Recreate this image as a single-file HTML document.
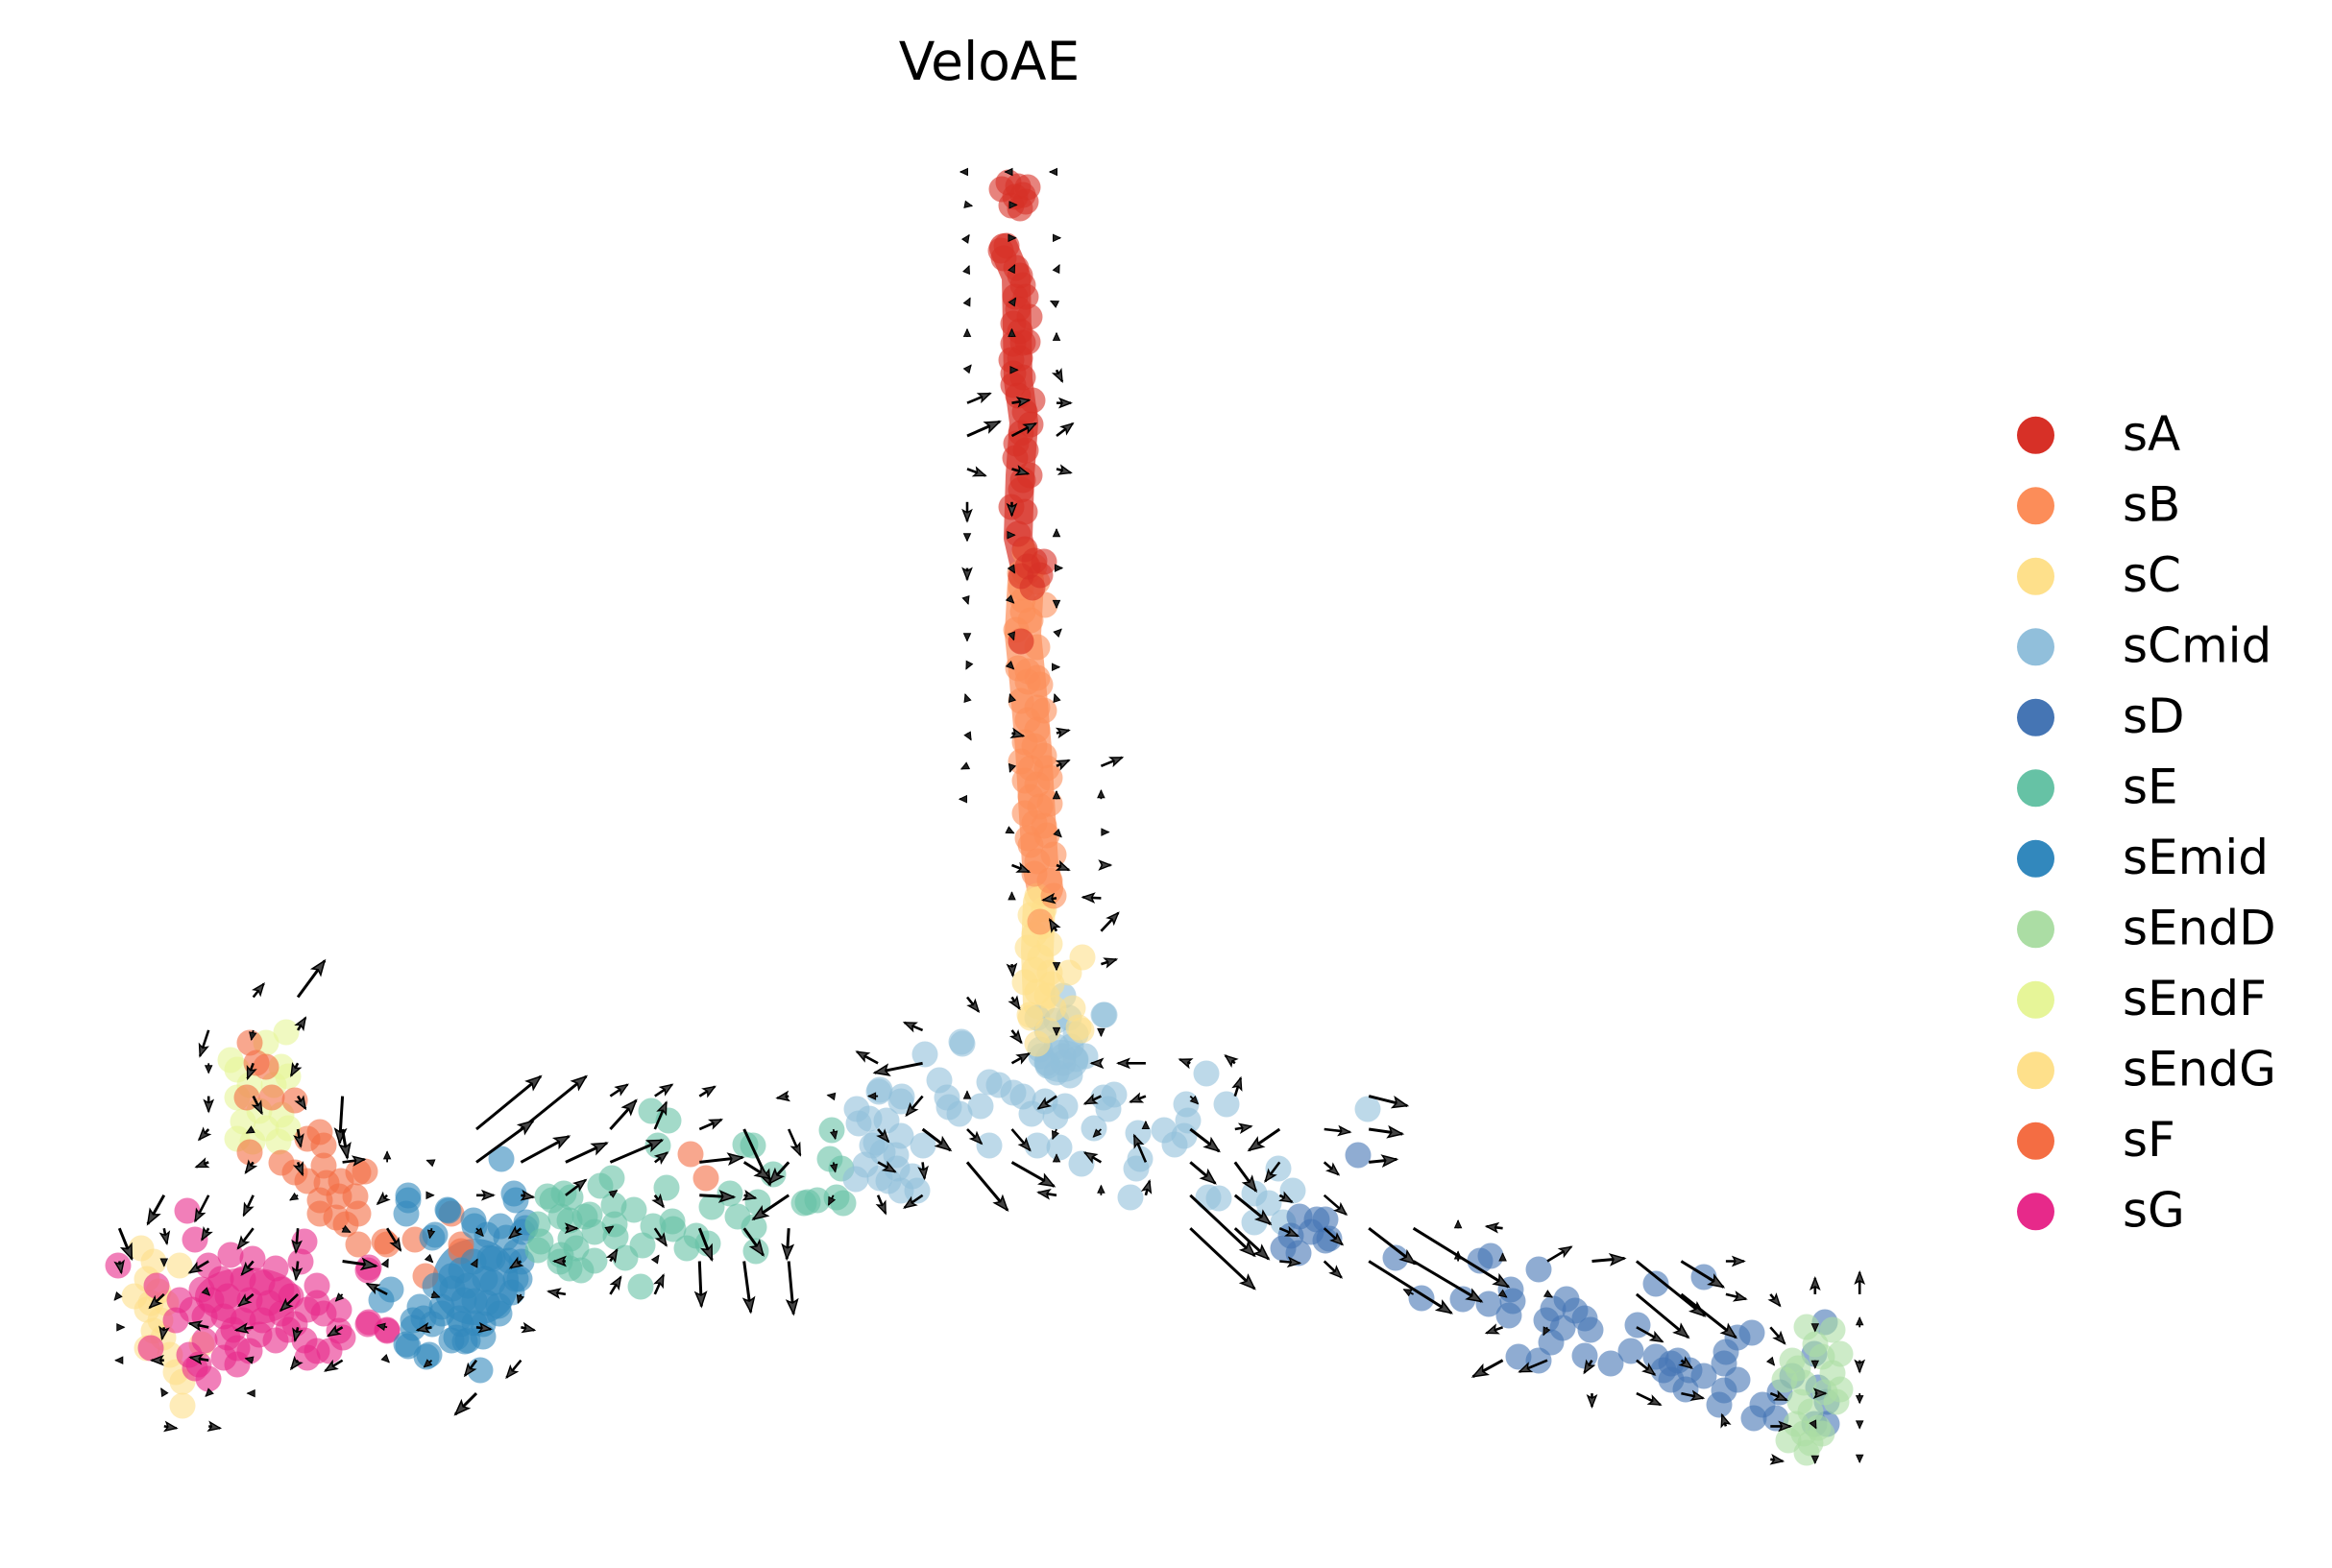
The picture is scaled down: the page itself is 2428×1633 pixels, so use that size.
<!DOCTYPE html>
<html><head><meta charset="utf-8"><style>
html,body{margin:0;padding:0;background:#fff;}
svg{display:block;}
</style></head><body>
<svg width="2428" height="1633" viewBox="0 0 2428 1633" xmlns="http://www.w3.org/2000/svg">
<defs>
<marker id="hb" markerUnits="userSpaceOnUse" markerWidth="17" markerHeight="13" refX="15.5" refY="6.5" orient="auto" overflow="visible"><path d="M1,1 L15.5,6.5 L1,12 L4,6.5 Z" fill="#444" stroke="#000" stroke-width="1.5"/></marker>
<marker id="hm" markerUnits="userSpaceOnUse" markerWidth="13" markerHeight="11" refX="12.5" refY="5.5" orient="auto" overflow="visible"><path d="M1,1 L12.5,5.5 L1,10 L3.5,5.5 Z" fill="#444" stroke="#000" stroke-width="1.4"/></marker>
<marker id="ht" markerUnits="userSpaceOnUse" markerWidth="9" markerHeight="8" refX="8" refY="4" orient="auto" overflow="visible"><path d="M0.5,0.5 L8,4 L0.5,7.5 Z" fill="#222" stroke="#000" stroke-width="1"/></marker>
</defs>
<rect width="2428" height="1633" fill="#fff"/>
<text x="1030" y="83" font-family="DejaVu Sans, Liberation Sans, sans-serif" font-size="55" text-anchor="middle" fill="#000">VeloAE</text>

<!-- dense bands -->
<g fill="none" stroke-linecap="round" stroke-linejoin="round">
<path d="M1045,258 L1058,288 L1060,395 L1066,440 L1062,495 L1060,560 L1068,595" stroke="#d73027" stroke-width="30" stroke-opacity="0.7"/>
<path d="M1068,605 L1065,660 L1070,710 L1076,780 L1080,850 L1083,900 L1088,925" stroke="#fc8d59" stroke-width="38" stroke-opacity="0.7"/>
<path d="M1082,940 L1080,990 L1082,1045" stroke="#fee08b" stroke-width="34" stroke-opacity="0.7"/>
</g>
<ellipse cx="1105" cy="1105" rx="28" ry="22" fill="#91bfdb" fill-opacity="0.6"/>
<ellipse cx="258" cy="1350" rx="55" ry="30" fill="#e7298a" fill-opacity="0.6"/>
<ellipse cx="495" cy="1335" rx="45" ry="45" fill="#3288bd" fill-opacity="0.7"/>

<!-- sEndG -->
<g fill="#fee08b" fill-opacity="0.6">
<circle cx="147" cy="1300" r="13.5"/><circle cx="160" cy="1314" r="13.5"/><circle cx="153" cy="1332" r="13.5"/><circle cx="187" cy="1318" r="13.5"/><circle cx="153" cy="1364" r="13.5"/><circle cx="167" cy="1375" r="13.5"/><circle cx="160" cy="1386" r="13.5"/><circle cx="170" cy="1393" r="13.5"/><circle cx="177" cy="1411" r="13.5"/><circle cx="183" cy="1429" r="13.5"/><circle cx="190" cy="1439" r="13.5"/><circle cx="190" cy="1464" r="13.5"/><circle cx="157" cy="1357" r="13.5"/><circle cx="210" cy="1400" r="13.5"/><circle cx="173" cy="1357" r="13.5"/><circle cx="153" cy="1404" r="13.5"/><circle cx="140" cy="1350" r="13.5"/><circle cx="165" cy="1345" r="13.5"/>
</g>
<!-- sEndF -->
<g fill="#e6f598" fill-opacity="0.6">
<circle cx="298" cy="1075" r="13.5"/><circle cx="277" cy="1086" r="13.5"/><circle cx="240" cy="1104" r="13.5"/><circle cx="247" cy="1114" r="13.5"/><circle cx="293" cy="1111" r="13.5"/><circle cx="300" cy="1121" r="13.5"/><circle cx="247" cy="1143" r="13.5"/><circle cx="270" cy="1157" r="13.5"/><circle cx="293" cy="1161" r="13.5"/><circle cx="253" cy="1168" r="13.5"/><circle cx="247" cy="1186" r="13.5"/><circle cx="277" cy="1175" r="13.5"/><circle cx="300" cy="1175" r="13.5"/><circle cx="263" cy="1189" r="13.5"/><circle cx="290" cy="1189" r="13.5"/><circle cx="260" cy="1130" r="13.5"/><circle cx="285" cy="1130" r="13.5"/>
</g>
<!-- sF -->
<g fill="#f46d43" fill-opacity="0.6">
<circle cx="260" cy="1086" r="13.5"/><circle cx="267" cy="1107" r="13.5"/><circle cx="277" cy="1111" r="13.5"/><circle cx="257" cy="1143" r="13.5"/><circle cx="283" cy="1143" r="13.5"/><circle cx="307" cy="1146" r="13.5"/><circle cx="260" cy="1200" r="13.5"/><circle cx="333" cy="1179" r="13.5"/><circle cx="320" cy="1186" r="13.5"/><circle cx="293" cy="1211" r="13.5"/><circle cx="307" cy="1221" r="13.5"/><circle cx="337" cy="1193" r="13.5"/><circle cx="337" cy="1214" r="13.5"/><circle cx="340" cy="1232" r="13.5"/><circle cx="333" cy="1250" r="13.5"/><circle cx="353" cy="1246" r="13.5"/><circle cx="350" cy="1268" r="13.5"/><circle cx="370" cy="1246" r="13.5"/><circle cx="373" cy="1264" r="13.5"/><circle cx="360" cy="1275" r="13.5"/><circle cx="333" cy="1264" r="13.5"/><circle cx="373" cy="1221" r="13.5"/><circle cx="373" cy="1296" r="13.5"/><circle cx="403" cy="1296" r="13.5"/><circle cx="432" cy="1291" r="13.5"/><circle cx="443" cy="1329" r="13.5"/><circle cx="480" cy="1296" r="13.5"/><circle cx="470" cy="1264" r="13.5"/><circle cx="719" cy="1202" r="13.5"/><circle cx="735" cy="1227" r="13.5"/><circle cx="380" cy="1220" r="13.5"/><circle cx="400" cy="1293" r="13.5"/><circle cx="480" cy="1303" r="13.5"/><circle cx="320" cy="1230" r="13.5"/><circle cx="355" cy="1230" r="13.5"/>
</g>
<!-- sG -->
<g fill="#e7298a" fill-opacity="0.6">
<circle cx="195" cy="1261" r="13.5"/><circle cx="203" cy="1291" r="13.5"/><circle cx="317" cy="1293" r="13.5"/><circle cx="313" cy="1314" r="13.5"/><circle cx="383" cy="1323" r="13.5"/><circle cx="330" cy="1339" r="13.5"/><circle cx="217" cy="1318" r="13.5"/><circle cx="240" cy="1307" r="13.5"/><circle cx="263" cy="1311" r="13.5"/><circle cx="287" cy="1321" r="13.5"/><circle cx="230" cy="1332" r="13.5"/><circle cx="253" cy="1332" r="13.5"/><circle cx="273" cy="1336" r="13.5"/><circle cx="293" cy="1343" r="13.5"/><circle cx="303" cy="1350" r="13.5"/><circle cx="210" cy="1343" r="13.5"/><circle cx="220" cy="1354" r="13.5"/><circle cx="237" cy="1350" r="13.5"/><circle cx="260" cy="1354" r="13.5"/><circle cx="280" cy="1357" r="13.5"/><circle cx="293" cy="1368" r="13.5"/><circle cx="320" cy="1364" r="13.5"/><circle cx="330" cy="1357" r="13.5"/><circle cx="337" cy="1368" r="13.5"/><circle cx="200" cy="1364" r="13.5"/><circle cx="213" cy="1371" r="13.5"/><circle cx="233" cy="1371" r="13.5"/><circle cx="253" cy="1375" r="13.5"/><circle cx="273" cy="1375" r="13.5"/><circle cx="307" cy="1379" r="13.5"/><circle cx="353" cy="1364" r="13.5"/><circle cx="353" cy="1386" r="13.5"/><circle cx="357" cy="1393" r="13.5"/><circle cx="383" cy="1379" r="13.5"/><circle cx="403" cy="1386" r="13.5"/><circle cx="287" cy="1396" r="13.5"/><circle cx="317" cy="1396" r="13.5"/><circle cx="330" cy="1407" r="13.5"/><circle cx="343" cy="1407" r="13.5"/><circle cx="320" cy="1414" r="13.5"/><circle cx="213" cy="1396" r="13.5"/><circle cx="237" cy="1393" r="13.5"/><circle cx="247" cy="1404" r="13.5"/><circle cx="260" cy="1407" r="13.5"/><circle cx="233" cy="1414" r="13.5"/><circle cx="247" cy="1421" r="13.5"/><circle cx="217" cy="1436" r="13.5"/><circle cx="207" cy="1421" r="13.5"/><circle cx="157" cy="1404" r="13.5"/><circle cx="163" cy="1339" r="13.5"/><circle cx="187" cy="1354" r="13.5"/><circle cx="183" cy="1375" r="13.5"/><circle cx="197" cy="1411" r="13.5"/><circle cx="203" cy="1425" r="13.5"/><circle cx="123" cy="1318" r="13.5"/><circle cx="384" cy="1377" r="13.5"/><circle cx="403" cy="1385" r="13.5"/><circle cx="384" cy="1320" r="13.5"/><circle cx="270" cy="1390" r="13.5"/><circle cx="300" cy="1385" r="13.5"/><circle cx="243" cy="1385" r="13.5"/>
</g>
<!-- sEmid -->
<g fill="#3288bd" fill-opacity="0.6">
<circle cx="522" cy="1207" r="13.5"/><circle cx="425" cy="1250" r="13.5"/><circle cx="423" cy="1264" r="13.5"/><circle cx="467" cy="1261" r="13.5"/><circle cx="450" cy="1289" r="13.5"/><circle cx="493" cy="1271" r="13.5"/><circle cx="537" cy="1250" r="13.5"/><circle cx="507" cy="1286" r="13.5"/><circle cx="527" cy="1289" r="13.5"/><circle cx="547" cy="1279" r="13.5"/><circle cx="537" cy="1304" r="13.5"/><circle cx="513" cy="1311" r="13.5"/><circle cx="493" cy="1314" r="13.5"/><circle cx="470" cy="1329" r="13.5"/><circle cx="453" cy="1339" r="13.5"/><circle cx="487" cy="1339" r="13.5"/><circle cx="513" cy="1336" r="13.5"/><circle cx="537" cy="1332" r="13.5"/><circle cx="543" cy="1314" r="13.5"/><circle cx="437" cy="1361" r="13.5"/><circle cx="460" cy="1361" r="13.5"/><circle cx="483" cy="1354" r="13.5"/><circle cx="507" cy="1357" r="13.5"/><circle cx="520" cy="1368" r="13.5"/><circle cx="533" cy="1346" r="13.5"/><circle cx="430" cy="1375" r="13.5"/><circle cx="450" cy="1379" r="13.5"/><circle cx="480" cy="1379" r="13.5"/><circle cx="503" cy="1379" r="13.5"/><circle cx="423" cy="1400" r="13.5"/><circle cx="447" cy="1411" r="13.5"/><circle cx="470" cy="1396" r="13.5"/><circle cx="487" cy="1396" r="13.5"/><circle cx="500" cy="1427" r="13.5"/><circle cx="407" cy="1343" r="13.5"/><circle cx="397" cy="1354" r="13.5"/><circle cx="535" cy="1243" r="13.5"/><circle cx="521" cy="1277" r="13.5"/><circle cx="544" cy="1283" r="13.5"/><circle cx="494" cy="1277" r="13.5"/><circle cx="510" cy="1310" r="13.5"/><circle cx="530" cy="1313" r="13.5"/><circle cx="541" cy="1332" r="13.5"/><circle cx="505" cy="1332" r="13.5"/><circle cx="480" cy="1323" r="13.5"/><circle cx="471" cy="1342" r="13.5"/><circle cx="494" cy="1355" r="13.5"/><circle cx="519" cy="1360" r="13.5"/><circle cx="460" cy="1368" r="13.5"/><circle cx="441" cy="1373" r="13.5"/><circle cx="430" cy="1383" r="13.5"/><circle cx="478" cy="1373" r="13.5"/><circle cx="494" cy="1378" r="13.5"/><circle cx="475" cy="1393" r="13.5"/><circle cx="503" cy="1392" r="13.5"/><circle cx="484" cy="1397" r="13.5"/><circle cx="425" cy="1402" r="13.5"/><circle cx="444" cy="1413" r="13.5"/><circle cx="425" cy="1245" r="13.5"/><circle cx="466" cy="1260" r="13.5"/><circle cx="548" cy="1273" r="13.5"/><circle cx="453" cy="1286" r="13.5"/>
</g>
<!-- sE -->
<g fill="#66c2a5" fill-opacity="0.6">
<circle cx="678" cy="1157" r="13.5"/><circle cx="696" cy="1167" r="13.5"/><circle cx="685" cy="1193" r="13.5"/><circle cx="694" cy="1237" r="13.5"/><circle cx="760" cy="1243" r="13.5"/><circle cx="741" cy="1257" r="13.5"/><circle cx="768" cy="1267" r="13.5"/><circle cx="789" cy="1252" r="13.5"/><circle cx="785" cy="1278" r="13.5"/><circle cx="787" cy="1303" r="13.5"/><circle cx="784" cy="1193" r="13.5"/><circle cx="637" cy="1227" r="13.5"/><circle cx="625" cy="1235" r="13.5"/><circle cx="639" cy="1255" r="13.5"/><circle cx="614" cy="1265" r="13.5"/><circle cx="641" cy="1288" r="13.5"/><circle cx="680" cy="1277" r="13.5"/><circle cx="701" cy="1280" r="13.5"/><circle cx="700" cy="1272" r="13.5"/><circle cx="725" cy="1287" r="13.5"/><circle cx="737" cy="1295" r="13.5"/><circle cx="651" cy="1310" r="13.5"/><circle cx="669" cy="1297" r="13.5"/><circle cx="667" cy="1340" r="13.5"/><circle cx="575" cy="1250" r="13.5"/><circle cx="594" cy="1247" r="13.5"/><circle cx="584" cy="1267" r="13.5"/><circle cx="609" cy="1267" r="13.5"/><circle cx="594" cy="1290" r="13.5"/><circle cx="619" cy="1283" r="13.5"/><circle cx="619" cy="1313" r="13.5"/><circle cx="605" cy="1323" r="13.5"/><circle cx="584" cy="1307" r="13.5"/><circle cx="560" cy="1302" r="13.5"/><circle cx="560" cy="1275" r="13.5"/><circle cx="837" cy="1253" r="13.5"/><circle cx="866" cy="1177" r="13.5"/><circle cx="864" cy="1207" r="13.5"/><circle cx="876" cy="1217" r="13.5"/><circle cx="878" cy="1253" r="13.5"/><circle cx="871" cy="1247" r="13.5"/><circle cx="851" cy="1250" r="13.5"/><circle cx="841" cy="1252" r="13.5"/><circle cx="570" cy="1246" r="13.5"/><circle cx="587" cy="1243" r="13.5"/><circle cx="593" cy="1271" r="13.5"/><circle cx="583" cy="1314" r="13.5"/><circle cx="563" cy="1293" r="13.5"/><circle cx="593" cy="1321" r="13.5"/><circle cx="805" cy="1223" r="13.5"/><circle cx="776" cy="1192" r="13.5"/><circle cx="640" cy="1275" r="13.5"/><circle cx="660" cy="1260" r="13.5"/><circle cx="715" cy="1300" r="13.5"/><circle cx="600" cy="1300" r="13.5"/>
</g>
<!-- sCmid -->
<g fill="#91bfdb" fill-opacity="0.6">
<circle cx="1107" cy="1037" r="13.5"/><circle cx="1150" cy="1057" r="13.5"/><circle cx="1002" cy="1087" r="13.5"/><circle cx="1080" cy="1060" r="13.5"/><circle cx="1100" cy="1063" r="13.5"/><circle cx="1113" cy="1060" r="13.5"/><circle cx="1090" cy="1073" r="13.5"/><circle cx="1120" cy="1077" r="13.5"/><circle cx="1107" cy="1100" r="13.5"/><circle cx="1090" cy="1107" r="13.5"/><circle cx="1120" cy="1103" r="13.5"/><circle cx="1100" cy="1117" r="13.5"/><circle cx="1130" cy="1100" r="13.5"/><circle cx="1083" cy="1093" r="13.5"/><circle cx="1107" cy="1107" r="13.5"/><circle cx="1114" cy="1120" r="13.5"/><circle cx="1091" cy="1110" r="13.5"/><circle cx="1149" cy="1057" r="13.5"/><circle cx="1084" cy="1100" r="13.5"/><circle cx="1100" cy="1090" r="13.5"/><circle cx="1115" cy="1090" r="13.5"/>
<circle cx="963" cy="1098" r="13.5"/><circle cx="1001" cy="1085" r="13.5"/><circle cx="978" cy="1125" r="13.5"/><circle cx="915" cy="1137" r="13.5"/><circle cx="938" cy="1147" r="13.5"/><circle cx="986" cy="1143" r="13.5"/><circle cx="988" cy="1153" r="13.5"/><circle cx="999" cy="1160" r="13.5"/><circle cx="1021" cy="1152" r="13.5"/><circle cx="1030" cy="1127" r="13.5"/><circle cx="1040" cy="1130" r="13.5"/><circle cx="1055" cy="1138" r="13.5"/><circle cx="1065" cy="1142" r="13.5"/><circle cx="1088" cy="1147" r="13.5"/><circle cx="1074" cy="1160" r="13.5"/><circle cx="1099" cy="1163" r="13.5"/><circle cx="1109" cy="1152" r="13.5"/><circle cx="1149" cy="1143" r="13.5"/><circle cx="1160" cy="1140" r="13.5"/><circle cx="1154" cy="1155" r="13.5"/><circle cx="1139" cy="1175" r="13.5"/><circle cx="1103" cy="1195" r="13.5"/><circle cx="1126" cy="1212" r="13.5"/><circle cx="1030" cy="1193" r="13.5"/><circle cx="1080" cy="1193" r="13.5"/><circle cx="938" cy="1183" r="13.5"/><circle cx="961" cy="1193" r="13.5"/><circle cx="908" cy="1193" r="13.5"/><circle cx="933" cy="1203" r="13.5"/><circle cx="950" cy="1225" r="13.5"/><circle cx="938" cy="1240" r="13.5"/><circle cx="955" cy="1240" r="13.5"/><circle cx="925" cy="1230" r="13.5"/><circle cx="1185" cy="1180" r="13.5"/><circle cx="1187" cy="1207" r="13.5"/><circle cx="1183" cy="1217" r="13.5"/><circle cx="1177" cy="1247" r="13.5"/><circle cx="1212" cy="1177" r="13.5"/><circle cx="1233" cy="1183" r="13.5"/><circle cx="1223" cy="1192" r="13.5"/><circle cx="1237" cy="1167" r="13.5"/><circle cx="1235" cy="1150" r="13.5"/><circle cx="1256" cy="1118" r="13.5"/><circle cx="1277" cy="1150" r="13.5"/><circle cx="1258" cy="1247" r="13.5"/><circle cx="1269" cy="1248" r="13.5"/><circle cx="1331" cy="1217" r="13.5"/><circle cx="1306" cy="1243" r="13.5"/><circle cx="1321" cy="1253" r="13.5"/><circle cx="1346" cy="1240" r="13.5"/><circle cx="1306" cy="1273" r="13.5"/><circle cx="1336" cy="1273" r="13.5"/><circle cx="1424" cy="1155" r="13.5"/>
<circle cx="916" cy="1135" r="13.5"/><circle cx="939" cy="1142" r="13.5"/><circle cx="892" cy="1155" r="13.5"/><circle cx="905" cy="1165" r="13.5"/><circle cx="923" cy="1167" r="13.5"/><circle cx="912" cy="1190" r="13.5"/><circle cx="919" cy="1200" r="13.5"/><circle cx="894" cy="1170" r="13.5"/><circle cx="901" cy="1213" r="13.5"/><circle cx="891" cy="1228" r="13.5"/><circle cx="916" cy="1227" r="13.5"/><circle cx="934" cy="1217" r="13.5"/>
</g>
<!-- sC -->
<g fill="#fee08b" fill-opacity="0.6">
<circle cx="1080" cy="933" r="13.5"/><circle cx="1073" cy="953" r="13.5"/><circle cx="1087" cy="947" r="13.5"/><circle cx="1077" cy="973" r="13.5"/><circle cx="1093" cy="983" r="13.5"/><circle cx="1070" cy="987" r="13.5"/><circle cx="1083" cy="997" r="13.5"/><circle cx="1127" cy="997" r="13.5"/><circle cx="1077" cy="1010" r="13.5"/><circle cx="1093" cy="1013" r="13.5"/><circle cx="1113" cy="1013" r="13.5"/><circle cx="1067" cy="1023" r="13.5"/><circle cx="1080" cy="1033" r="13.5"/><circle cx="1090" cy="1037" r="13.5"/><circle cx="1073" cy="1060" r="13.5"/><circle cx="1123" cy="1070" r="13.5"/><circle cx="1080" cy="1087" r="13.5"/><circle cx="1117" cy="1050" r="13.5"/><circle cx="1097" cy="1050" r="13.5"/><circle cx="1072" cy="1057" r="13.5"/><circle cx="1126" cy="1073" r="13.5"/><circle cx="1091" cy="1073" r="13.5"/><circle cx="1085" cy="965" r="13.5"/><circle cx="1095" cy="1025" r="13.5"/>
</g>
<!-- sB -->
<g fill="#fc8d59" fill-opacity="0.6">
<circle cx="1077" cy="590" r="13.5"/><circle cx="1067" cy="575" r="13.5"/><circle cx="1062" cy="597" r="13.5"/><circle cx="1063" cy="612" r="13.5"/><circle cx="1080" cy="606" r="13.5"/><circle cx="1065" cy="637" r="13.5"/><circle cx="1058" cy="656" r="13.5"/><circle cx="1073" cy="646" r="13.5"/><circle cx="1080" cy="674" r="13.5"/><circle cx="1063" cy="667" r="13.5"/><circle cx="1070" cy="699" r="13.5"/><circle cx="1060" cy="696" r="13.5"/><circle cx="1080" cy="706" r="13.5"/><circle cx="1065" cy="625" r="13.5"/><circle cx="1088" cy="630" r="13.5"/>
<circle cx="1070" cy="710" r="13.5"/><circle cx="1083" cy="713" r="13.5"/><circle cx="1063" cy="730" r="13.5"/><circle cx="1080" cy="737" r="13.5"/><circle cx="1087" cy="740" r="13.5"/><circle cx="1070" cy="750" r="13.5"/><circle cx="1080" cy="760" r="13.5"/><circle cx="1067" cy="773" r="13.5"/><circle cx="1077" cy="777" r="13.5"/><circle cx="1087" cy="787" r="13.5"/><circle cx="1063" cy="793" r="13.5"/><circle cx="1073" cy="800" r="13.5"/><circle cx="1090" cy="800" r="13.5"/><circle cx="1067" cy="813" r="13.5"/><circle cx="1080" cy="817" r="13.5"/><circle cx="1093" cy="810" r="13.5"/><circle cx="1073" cy="830" r="13.5"/><circle cx="1093" cy="837" r="13.5"/><circle cx="1083" cy="840" r="13.5"/><circle cx="1067" cy="847" r="13.5"/><circle cx="1077" cy="857" r="13.5"/><circle cx="1087" cy="860" r="13.5"/><circle cx="1070" cy="873" r="13.5"/><circle cx="1090" cy="870" r="13.5"/><circle cx="1073" cy="880" r="13.5"/><circle cx="1097" cy="890" r="13.5"/><circle cx="1080" cy="897" r="13.5"/><circle cx="1077" cy="910" r="13.5"/><circle cx="1093" cy="917" r="13.5"/><circle cx="1097" cy="933" r="13.5"/><circle cx="1083" cy="960" r="13.5"/>
</g>
<!-- sA -->
<g fill="#d73027" fill-opacity="0.6">
<circle cx="1043" cy="197" r="13.5"/><circle cx="1060" cy="194" r="13.5"/><circle cx="1065" cy="203" r="13.5"/><circle cx="1053" cy="214" r="13.5"/><circle cx="1062" cy="217" r="13.5"/><circle cx="1068" cy="210" r="13.5"/><circle cx="1057" cy="205" r="13.5"/><circle cx="1050" cy="190" r="13.5"/><circle cx="1070" cy="195" r="13.5"/>
<circle cx="1042" cy="261" r="13.5"/><circle cx="1048" cy="256" r="13.5"/><circle cx="1045" cy="269" r="13.5"/><circle cx="1058" cy="279" r="13.5"/><circle cx="1062" cy="287" r="13.5"/><circle cx="1065" cy="297" r="13.5"/><circle cx="1057" cy="309" r="13.5"/><circle cx="1068" cy="309" r="13.5"/><circle cx="1060" cy="322" r="13.5"/><circle cx="1072" cy="330" r="13.5"/><circle cx="1055" cy="337" r="13.5"/><circle cx="1062" cy="345" r="13.5"/><circle cx="1055" cy="358" r="13.5"/><circle cx="1065" cy="357" r="13.5"/><circle cx="1053" cy="375" r="13.5"/><circle cx="1062" cy="373" r="13.5"/><circle cx="1055" cy="389" r="13.5"/><circle cx="1065" cy="393" r="13.5"/><circle cx="1055" cy="401" r="13.5"/><circle cx="1075" cy="417" r="13.5"/><circle cx="1067" cy="429" r="13.5"/><circle cx="1073" cy="442" r="13.5"/><circle cx="1063" cy="451" r="13.5"/><circle cx="1057" cy="477" r="13.5"/><circle cx="1068" cy="469" r="13.5"/><circle cx="1072" cy="495" r="13.5"/><circle cx="1065" cy="500" r="13.5"/><circle cx="1053" cy="528" r="13.5"/><circle cx="1067" cy="533" r="13.5"/><circle cx="1063" cy="510" r="13.5"/><circle cx="1060" cy="556" r="13.5"/><circle cx="1067" cy="572" r="13.5"/><circle cx="1083" cy="599" r="13.5"/><circle cx="1063" cy="600" r="13.5"/><circle cx="1077" cy="584" r="13.5"/><circle cx="1058" cy="462" r="13.5"/><circle cx="1060" cy="412" r="13.5"/><circle cx="1070" cy="356" r="13.5"/>
<circle cx="1075" cy="612" r="13.5"/><circle cx="1087" cy="585" r="13.5"/><circle cx="1063" cy="668" r="13.5"/><circle cx="1070" cy="590" r="13.5"/>
</g>
<!-- sD -->
<g fill="#4575b4" fill-opacity="0.6">
<circle cx="1414" cy="1203" r="13.5"/><circle cx="1353" cy="1267" r="13.5"/><circle cx="1371" cy="1270" r="13.5"/><circle cx="1380" cy="1270" r="13.5"/><circle cx="1344" cy="1287" r="13.5"/><circle cx="1380" cy="1292" r="13.5"/><circle cx="1336" cy="1300" r="13.5"/><circle cx="1352" cy="1305" r="13.5"/><circle cx="1453" cy="1310" r="13.5"/><circle cx="1480" cy="1352" r="13.5"/><circle cx="1384" cy="1290" r="13.5"/><circle cx="1541" cy="1313" r="13.5"/><circle cx="1552" cy="1308" r="13.5"/><circle cx="1523" cy="1353" r="13.5"/><circle cx="1550" cy="1358" r="13.5"/><circle cx="1573" cy="1343" r="13.5"/><circle cx="1571" cy="1370" r="13.5"/><circle cx="1602" cy="1322" r="13.5"/><circle cx="1631" cy="1353" r="13.5"/><circle cx="1617" cy="1363" r="13.5"/><circle cx="1610" cy="1375" r="13.5"/><circle cx="1627" cy="1383" r="13.5"/><circle cx="1650" cy="1373" r="13.5"/><circle cx="1656" cy="1385" r="13.5"/><circle cx="1615" cy="1398" r="13.5"/><circle cx="1581" cy="1413" r="13.5"/><circle cx="1602" cy="1417" r="13.5"/><circle cx="1650" cy="1412" r="13.5"/><circle cx="1677" cy="1420" r="13.5"/><circle cx="1698" cy="1407" r="13.5"/><circle cx="1705" cy="1380" r="13.5"/><circle cx="1724" cy="1337" r="13.5"/><circle cx="1774" cy="1330" r="13.5"/><circle cx="1724" cy="1413" r="13.5"/><circle cx="1732" cy="1427" r="13.5"/><circle cx="1747" cy="1417" r="13.5"/><circle cx="1759" cy="1427" r="13.5"/><circle cx="1740" cy="1437" r="13.5"/><circle cx="1774" cy="1433" r="13.5"/><circle cx="1755" cy="1447" r="13.5"/><circle cx="1797" cy="1408" r="13.5"/><circle cx="1809" cy="1393" r="13.5"/><circle cx="1824" cy="1388" r="13.5"/><circle cx="1795" cy="1420" r="13.5"/><circle cx="1809" cy="1437" r="13.5"/><circle cx="1795" cy="1448" r="13.5"/><circle cx="1790" cy="1463" r="13.5"/><circle cx="1826" cy="1477" r="13.5"/><circle cx="1835" cy="1463" r="13.5"/><circle cx="1849" cy="1477" r="13.5"/><circle cx="1853" cy="1450" r="13.5"/><circle cx="1866" cy="1433" r="13.5"/><circle cx="1889" cy="1410" r="13.5"/><circle cx="1900" cy="1377" r="13.5"/><circle cx="1893" cy="1445" r="13.5"/><circle cx="1902" cy="1460" r="13.5"/><circle cx="1902" cy="1483" r="13.5"/><circle cx="1889" cy="1483" r="13.5"/><circle cx="1365" cy="1283" r="13.5"/><circle cx="1575" cy="1355" r="13.5"/><circle cx="1640" cy="1365" r="13.5"/><circle cx="1740" cy="1420" r="13.5"/>
</g>
<!-- sEndD -->
<g fill="#abdda4" fill-opacity="0.6">
<circle cx="1881" cy="1382" r="13.5"/><circle cx="1908" cy="1385" r="13.5"/><circle cx="1916" cy="1410" r="13.5"/><circle cx="1866" cy="1417" r="13.5"/><circle cx="1897" cy="1413" r="13.5"/><circle cx="1908" cy="1430" r="13.5"/><circle cx="1858" cy="1437" r="13.5"/><circle cx="1878" cy="1440" r="13.5"/><circle cx="1916" cy="1447" r="13.5"/><circle cx="1874" cy="1460" r="13.5"/><circle cx="1885" cy="1470" r="13.5"/><circle cx="1912" cy="1460" r="13.5"/><circle cx="1870" cy="1483" r="13.5"/><circle cx="1878" cy="1493" r="13.5"/><circle cx="1862" cy="1500" r="13.5"/><circle cx="1885" cy="1503" r="13.5"/><circle cx="1893" cy="1487" r="13.5"/><circle cx="1881" cy="1513" r="13.5"/><circle cx="1897" cy="1493" r="13.5"/><circle cx="1890" cy="1400" r="13.5"/><circle cx="1900" cy="1450" r="13.5"/><circle cx="1872" cy="1425" r="13.5"/>
</g>

<!-- arrows: tiny -->
<g fill="none" stroke="#000" stroke-width="1.8" marker-end="url(#ht)">
<path d="M1007,179l-7,0"/><path d="M1053.5,179l-7,0"/><path d="M1100,179l-7,0"/>
<path d="M1007,213.4l5,1"/><path d="M1053.5,213.4l5,0"/>
<path d="M1007,247.8l2,-3"/><path d="M1053.5,247.8l4,0"/><path d="M1100,247.8l4,0"/>
<path d="M1007,282.1l2,-5"/><path d="M1053.5,282.1l3,-6"/><path d="M1100,282.1l3,-6"/>
<path d="M1007,316.5l3,-6"/><path d="M1053.5,316.5l4,-6"/><path d="M1100,316.5l-6,-3"/>
<path d="M1007,350.9l0,-8"/><path d="M1053.5,350.9l0,-8"/><path d="M1100,350.9l0,-4"/>
<path d="M1007,385.3l4,-5"/><path d="M1053.5,385.3l6,0"/>
<path d="M1007,557.2l0,6"/><path d="M1053.5,557.2l3,0"/><path d="M1100,557.2l0,-6"/>
<path d="M1053.5,591.6l3,5"/><path d="M1100,591.6l6,0"/>
<path d="M1007,625.9l1,3"/><path d="M1053.5,625.9l2,2"/><path d="M1100,625.9l0,7"/>
<path d="M1007,660.3l0,7"/><path d="M1053.5,660.3l2,6"/><path d="M1100,660.3l5,-5"/>
<path d="M1007,694.7l-1,2"/><path d="M1053.5,694.7l2,2"/><path d="M1100,694.7l3,0"/>
<path d="M1007,729.1l-2,-6"/><path d="M1053.5,729.1l-2,-6"/><path d="M1100,729.1l-2,-6"/>
<path d="M1007,763.5l4,7"/>
<path d="M1007,797.8l-6,3"/><path d="M1053.5,797.8l-2,6"/>
<path d="M1007,832.2l-8,0"/><path d="M1100,832.2l0,-8"/><path d="M1146.4,832.2l0,-9"/>
<path d="M1053.5,866.6l2,1"/><path d="M1100,866.6l5,5"/><path d="M1146.4,866.6l8,0"/>
<path d="M1053.5,935.4l0,-6"/><path d="M1100,1004.1l0,6"/><path d="M1100,1072.9l0,5"/><path d="M1146.4,1072.9l0,6"/>
<path d="M914.1,1141.6l-10,0"/><path d="M1007,1141.6l0,-5"/><path d="M1239.3,1141.6l8,8"/>
<path d="M1100,1176l-4,10"/><path d="M1146.4,1176l-8,8"/><path d="M1192.9,1176l0,-8"/>
<path d="M1100,1210.4l0,-8"/><path d="M1146.4,1244.8l0,-10"/>
<path d="M1518.1,1279.2l0,-8"/><path d="M1518.1,1313.5l0,-10"/><path d="M1564.6,1313.5l0,-8"/>
<path d="M1471.6,1347.9l-10,-5"/><path d="M1564.6,1347.9l4,3"/><path d="M1611,1347.9l5,3"/>
<path d="M1611,1382.3l-4,8"/><path d="M1936.2,1382.3l0,-10"/><path d="M1889.8,1382.3l0,4"/>
<path d="M1843.3,1416.7l4,5"/><path d="M1889.8,1416.7l0,8"/><path d="M1936.2,1451.1l0,10"/>
<path d="M1889.8,1485.4l1,2"/><path d="M1936.2,1485.4l0,2"/><path d="M1889.8,1519.8l0,4"/><path d="M1936.2,1519.8l0,3"/>
<path d="M263.7,1072.9l-2,10"/><path d="M217.2,1107.3l0,10"/><path d="M867.7,1141.6l-6,-1"/>
<path d="M263.7,1176l-7,4"/><path d="M867.7,1176l2,10"/>
<path d="M403.1,1210.4l0,-11"/><path d="M449.5,1210.4l-5,-2"/><path d="M867.7,1210.4l2,10"/>
<path d="M310.1,1244.8l-8,5"/><path d="M449.5,1244.8l2,0"/><path d="M635.4,1244.8l7,-5"/><path d="M867.7,1244.8l-5,10"/>
<path d="M356.6,1279.2l8,4"/><path d="M449.5,1279.2l-2,10"/><path d="M496,1279.2l7,8"/><path d="M635.4,1279.2l3,-2"/>
<path d="M170.8,1313.5l0,5"/><path d="M403.1,1313.5l1,-2"/><path d="M449.5,1313.5l1,1"/><path d="M496,1313.5l1,-2"/><path d="M681.8,1313.5l4,-6"/>
<path d="M124.3,1347.9l-5,6"/><path d="M217.2,1347.9l1,1"/><path d="M356.6,1347.9l-7,7"/><path d="M449.5,1347.9l8,3"/><path d="M542.4,1347.9l-3,9"/>
<path d="M124.3,1382.3l5,0"/><path d="M403.1,1382.3l-10,-2"/>
<path d="M124.3,1416.7l-4,0"/><path d="M263.7,1416.7l-8,-2"/><path d="M403.1,1416.7l2,2"/><path d="M449.5,1416.7l-8,7"/>
<path d="M170.8,1451.1l-3,-5"/><path d="M217.2,1451.1l-3,3"/><path d="M263.7,1451.1l-6,0"/>
</g>
<!-- arrows: medium -->
<g fill="none" stroke="#000" stroke-width="2.6" marker-end="url(#hm)">
<path d="M1100,385.3l6,12"/>
<path d="M1007,419.7l24,-10"/><path d="M1053.5,419.7l18,-3"/><path d="M1100,419.7l15,0"/>
<path d="M1053.5,454l25,-13"/><path d="M1100,454l17,-13"/>
<path d="M1007,488.4l19,7"/><path d="M1053.5,488.4l17,5"/><path d="M1100,488.4l15,4"/>
<path d="M1007,522.8l0,20"/><path d="M1053.5,522.8l0,14"/>
<path d="M1007,591.6l0,12"/>
<path d="M1053.5,763.5l12,3"/><path d="M1100,763.5l13,-3"/>
<path d="M1100,797.8l13,-6"/><path d="M1146.4,797.8l22,-9"/>
<path d="M1053.5,901l18,7"/><path d="M1100,901l13,5"/><path d="M1146.4,901l10,0"/>
<path d="M1100,935.4l-14,2"/><path d="M1146.4,935.4l-19,-1"/>
<path d="M1100,969.7l-7,-12"/><path d="M1146.4,969.7l18,-19"/>
<path d="M1053.5,1004.1l1,12"/><path d="M1146.4,1004.1l16,-5"/>
<path d="M1007,1038.5l12,15"/><path d="M1053.5,1038.5l8,12"/>
<path d="M1053.5,1072.9l10,13"/><path d="M960.6,1072.9l-19,-8"/>
<path d="M1053.5,1107.3l18,-10"/><path d="M1146.4,1107.3l-10,0"/><path d="M1192.9,1107.3l-29,0"/><path d="M1239.3,1107.3l-11,-4"/><path d="M1285.8,1107.3l-10,-8"/><path d="M914.1,1107.3l-22,-12"/>
<path d="M960.6,1141.6l-17,20"/><path d="M1100,1141.6l-19,13"/><path d="M1146.4,1141.6l-17,8"/><path d="M1192.9,1141.6l-16,6"/><path d="M1285.8,1141.6l6,-19"/>
<path d="M914.1,1176l11,13"/><path d="M1007,1176l15,15"/><path d="M1053.5,1176l19,22"/><path d="M1285.8,1176l17,-3"/><path d="M1378.7,1176l27,3"/>
<path d="M914.1,1210.4l18,10"/><path d="M960.6,1210.4l2,17"/><path d="M1146.4,1210.4l-17,-10"/><path d="M1192.9,1210.4l-12,-28"/><path d="M1332.3,1210.4l-15,20"/><path d="M1378.7,1210.4l15,13"/>
<path d="M914.1,1244.8l8,19"/><path d="M960.6,1244.8l-19,13"/><path d="M1100,1244.8l-19,-3"/><path d="M1192.9,1244.8l4,-15"/><path d="M1332.3,1244.8l13,7"/><path d="M1378.7,1244.8l23,20"/>
<path d="M1332.3,1279.2l19,8"/><path d="M1378.7,1279.2l19,17"/><path d="M1564.6,1279.2l-17,-2"/>
<path d="M1332.3,1313.5l21,2"/><path d="M1378.7,1313.5l18,17"/><path d="M1611,1313.5l25,-15"/><path d="M1796.9,1313.5l19,0"/>
<path d="M1796.9,1347.9l21,5"/><path d="M1843.3,1347.9l10,12"/><path d="M1889.8,1347.9l0,-17"/><path d="M1936.2,1347.9l0,-23"/>
<path d="M1564.6,1382.3l-17,6"/><path d="M1703.9,1382.3l27,15"/><path d="M1843.3,1382.3l15,17"/>
<path d="M1611,1416.7l-29,12"/><path d="M1657.5,1416.7l-8,13"/><path d="M1703.9,1416.7l19,15"/><path d="M1750.4,1416.7l11,8"/><path d="M1936.2,1416.7l0,12"/>
<path d="M1657.5,1451.1l0,14"/><path d="M1703.9,1451.1l25,12"/><path d="M1750.4,1451.1l23,5"/><path d="M1843.3,1451.1l17,7"/><path d="M1889.8,1451.1l11,0"/>
<path d="M1796.9,1485.4l-4,-12"/><path d="M1843.3,1485.4l21,0"/><path d="M1843.3,1519.8l13,2"/>
<path d="M263.7,1038.5l11,-14"/>
<path d="M217.2,1072.9l-9,27"/><path d="M310.1,1072.9l8,-13"/>
<path d="M263.7,1107.3l-6,16"/><path d="M310.1,1107.3l-7,13"/>
<path d="M217.2,1141.6l0,16"/><path d="M263.7,1141.6l9,18"/><path d="M310.1,1141.6l8,13"/>
<path d="M635.4,1141.6l18,-12"/><path d="M681.8,1141.6l18,-12"/><path d="M728.3,1141.6l16,-10"/><path d="M821.2,1141.6l-12,2"/>
<path d="M217.2,1176l-10,11"/><path d="M310.1,1176l3,18"/><path d="M681.8,1176l12,-28"/><path d="M728.3,1176l23,-10"/><path d="M821.2,1176l12,27"/>
<path d="M217.2,1210.4l-13,5"/><path d="M263.7,1210.4l-8,11"/><path d="M310.1,1210.4l5,13"/><path d="M356.6,1210.4l23,-3"/><path d="M681.8,1210.4l13,-10"/>
<path d="M217.2,1244.8l-14,27"/><path d="M263.7,1244.8l-10,21"/><path d="M403.1,1244.8l-10,9"/><path d="M496,1244.8l18,0"/><path d="M542.4,1244.8l13,2"/><path d="M588.9,1244.8l21,-16"/><path d="M681.8,1244.8l9,12"/><path d="M774.7,1244.8l12,3"/>
<path d="M170.8,1279.2l3,16"/><path d="M217.2,1279.2l-7,12"/><path d="M263.7,1279.2l-16,21"/><path d="M310.1,1279.2l-2,25"/><path d="M403.1,1279.2l14,23"/><path d="M542.4,1279.2l-12,10"/><path d="M588.9,1279.2l12,0"/><path d="M681.8,1279.2l12,18"/>
<path d="M124.3,1313.5l2,12"/><path d="M217.2,1313.5l-20,12"/><path d="M263.7,1313.5l-12,14"/><path d="M310.1,1313.5l-2,19"/><path d="M542.4,1313.5l-11,7"/><path d="M588.9,1313.5l-12,0"/><path d="M635.4,1313.5l7,-12"/>
<path d="M170.8,1347.9l-15,14"/><path d="M263.7,1347.9l-15,12"/><path d="M310.1,1347.9l-18,17"/><path d="M403.1,1347.9l-21,-11"/><path d="M588.9,1347.9l-18,-3"/><path d="M635.4,1347.9l11,-18"/><path d="M681.8,1347.9l9,-20"/>
<path d="M170.8,1382.3l-2,12"/><path d="M217.2,1382.3l-20,-4"/><path d="M263.7,1382.3l-18,3"/><path d="M310.1,1382.3l-3,14"/><path d="M356.6,1382.3l-15,9"/><path d="M449.5,1382.3l-15,3"/><path d="M496,1382.3l15,2"/><path d="M542.4,1382.3l14,3"/>
<path d="M170.8,1416.7l-13,0"/><path d="M217.2,1416.7l-19,-3"/><path d="M310.1,1416.7l-7,9"/><path d="M356.6,1416.7l-18,11"/><path d="M496,1416.7l-12,16"/><path d="M542.4,1416.7l-15,18"/>
<path d="M170.8,1485.4l13,2"/><path d="M217.2,1485.4l12,2"/>
</g>
<!-- arrows: big -->
<g fill="none" stroke="#000" stroke-width="3" marker-end="url(#hb)">
<path d="M1007,454l34,-15"/><path d="M960.6,1107.3l-50,10"/>
<path d="M1425.2,1141.6l40,10"/>
<path d="M960.6,1176l29,22"/><path d="M1239.3,1176l30,23"/><path d="M1332.3,1176l-32,22"/><path d="M1425.2,1176l35,5"/>
<path d="M1007,1210.4l42,50"/><path d="M1053.5,1210.4l44,25"/><path d="M1239.3,1210.4l26,22"/><path d="M1285.8,1210.4l22,30"/><path d="M1425.2,1210.4l29,-3"/>
<path d="M1239.3,1244.8l67,63"/><path d="M1285.8,1244.8l37,30"/>
<path d="M1239.3,1279.2l67,63"/><path d="M1285.8,1279.2l35,32"/><path d="M1425.2,1279.2l48,37"/><path d="M1471.6,1279.2l99,61"/>
<path d="M1425.2,1313.5l86,54"/><path d="M1471.6,1313.5l71,42"/><path d="M1657.5,1313.5l34,-3"/><path d="M1703.9,1313.5l71,57"/><path d="M1750.4,1313.5l44,27"/>
<path d="M1703.9,1347.9l54,45"/><path d="M1750.4,1347.9l57,45"/>
<path d="M1564.6,1416.7l-31,17"/>
<path d="M310.1,1038.5l28,-38"/>
<path d="M356.6,1141.6l-3,49"/>
<path d="M356.6,1176l5,30"/><path d="M496,1176l67,-55"/><path d="M542.4,1176l68,-55"/><path d="M635.4,1176l27,-30"/><path d="M774.7,1176l27,58"/>
<path d="M496,1210.4l59,-43"/><path d="M542.4,1210.4l50,-27"/><path d="M588.9,1210.4l43,-20"/><path d="M635.4,1210.4l54,-23"/><path d="M728.3,1210.4l45,-5"/><path d="M774.7,1210.4l27,17"/><path d="M821.2,1210.4l-20,22"/>
<path d="M170.8,1244.8l-17,30"/><path d="M728.3,1244.8l36,2"/><path d="M821.2,1244.8l-37,25"/>
<path d="M124.3,1279.2l13,32"/><path d="M728.3,1279.2l13,33"/><path d="M774.7,1279.2l20,28"/><path d="M821.2,1279.2l-2,32"/>
<path d="M356.6,1313.5l35,5"/><path d="M728.3,1313.5l2,47"/><path d="M774.7,1313.5l7,53"/><path d="M821.2,1313.5l5,55"/>
<path d="M496,1451.1l-22,22"/>
</g>

<!-- legend -->
<g font-family="DejaVu Sans, Liberation Sans, sans-serif" font-size="50" fill="#000">
<circle cx="2119.5" cy="453.3" r="19.5" fill="#d73027"/><text x="2210" y="469">sA</text>
<circle cx="2119.5" cy="526.8" r="19.5" fill="#fc8d59"/><text x="2210" y="542.5">sB</text>
<circle cx="2119.5" cy="600.3" r="19.5" fill="#fee08b"/><text x="2210" y="616">sC</text>
<circle cx="2119.5" cy="673.8" r="19.5" fill="#91bfdb"/><text x="2210" y="689.5">sCmid</text>
<circle cx="2119.5" cy="747.3" r="19.5" fill="#4575b4"/><text x="2210" y="763">sD</text>
<circle cx="2119.5" cy="820.8" r="19.5" fill="#66c2a5"/><text x="2210" y="836.5">sE</text>
<circle cx="2119.5" cy="894.3" r="19.5" fill="#3288bd"/><text x="2210" y="910">sEmid</text>
<circle cx="2119.5" cy="967.8" r="19.5" fill="#abdda4"/><text x="2210" y="983.5">sEndD</text>
<circle cx="2119.5" cy="1041.3" r="19.5" fill="#e6f598"/><text x="2210" y="1057">sEndF</text>
<circle cx="2119.5" cy="1114.8" r="19.5" fill="#fee08b"/><text x="2210" y="1130.5">sEndG</text>
<circle cx="2119.5" cy="1188.3" r="19.5" fill="#f46d43"/><text x="2210" y="1204">sF</text>
<circle cx="2119.5" cy="1261.8" r="19.5" fill="#e7298a"/><text x="2210" y="1277.5">sG</text>
</g>
</svg>
</body></html>
